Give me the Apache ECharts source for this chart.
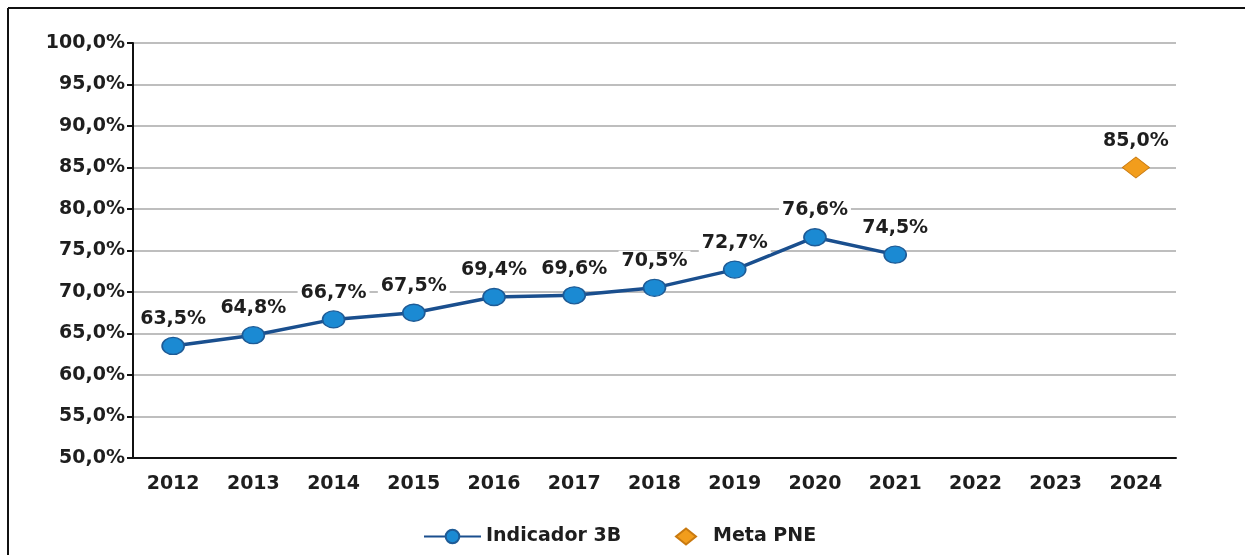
<!DOCTYPE html>
<html>
<head>
<meta charset="utf-8">
<script src="https://cdn.jsdelivr.net/npm/echarts@6/dist/echarts.min.js"></script>
<style>
  html, body { margin: 0; padding: 0; background: #fff; }
  #chart { width: 1245px; height: 555px; }
</style>
</head>
<body>
<div id="chart"></div>
<script>
var years = ['2012','2013','2014','2015','2016','2017','2018','2019','2020','2021','2022','2023','2024'];
var indicador = [63.5, 64.8, 66.7, 67.5, 69.4, 69.6, 70.5, 72.7, 76.6, 74.5, null, null, null];
var meta = [null, null, null, null, null, null, null, null, null, null, null, null, 85.0];

var dom = document.getElementById('chart');
var myChart = echarts.init(dom);

function pct(v) {
    return v.toFixed(1).replace('.', ',') + '%';
}

var txtFont = 'DejaVu Sans';
var txtColor = '#1e1e1e';

var option = {
    animation: false,
    backgroundColor: '#fff',
    textStyle: { fontFamily: txtFont },
    graphic: [
        { type: 'line', shape: { x1: 8, y1: 8, x2: 1245, y2: 8 }, style: { stroke: '#111', lineWidth: 2 } },
        { type: 'line', shape: { x1: 8, y1: 8, x2: 8, y2: 555 }, style: { stroke: '#111', lineWidth: 2 } }
    ],
    grid: { left: 133, right: 69, top: 43, bottom: 97 },
    legend: [
        {
            data: ['Indicador 3B'],
            left: 418, top: 522,
            itemWidth: 57, itemHeight: 17,
            textStyle: { fontSize: 19, fontWeight: 'bold', color: txtColor, fontFamily: txtFont }
        },
        {
            data: ['Meta PNE'],
            left: 670, top: 522,
            itemWidth: 20, itemHeight: 16,
            textStyle: { fontSize: 19, fontWeight: 'bold', color: txtColor, fontFamily: txtFont, padding: [0, 0, 0, 12] }
        }
    ],
    xAxis: {
        type: 'category',
        data: years,
        boundaryGap: true,
        axisLine: { lineStyle: { color: '#111', width: 2 } },
        axisTick: { show: false },
        axisLabel: { fontSize: 19, fontWeight: 'bold', color: txtColor, margin: 17, fontFamily: txtFont }
    },
    yAxis: {
        type: 'value',
        min: 50, max: 100, interval: 5,
        axisLine: { show: true, lineStyle: { color: '#111', width: 2 } },
        axisTick: { show: true, length: 6, lineStyle: { color: '#111', width: 2 } },
        splitLine: { lineStyle: { color: '#a8a8a8', width: 1.5 } },
        axisLabel: {
            fontSize: 19, fontWeight: 'bold', color: txtColor, margin: 8, fontFamily: txtFont,
            formatter: function (v) { return pct(v); }
        }
    },
    series: [
        {
            name: 'Indicador 3B',
            type: 'line',
            data: indicador,
            symbol: 'circle',
            symbolSize: [22, 17],
            lineStyle: { color: '#1a4f8e', width: 3.5 },
            itemStyle: { color: '#1b8ad3', borderColor: '#1e5b96', borderWidth: 1.5 },
            label: {
                show: true, position: 'top', distance: 7,
                fontSize: 19, fontWeight: 'bold', color: txtColor, fontFamily: txtFont,
                backgroundColor: '#fff', padding: [1, 3],
                formatter: function (p) { return pct(p.value); }
            },
            z: 3
        },
        {
            name: 'Meta PNE',
            type: 'scatter',
            data: meta,
            symbol: 'diamond',
            symbolSize: [27, 21],
            itemStyle: { color: '#f29d1c', borderColor: '#c97a10', borderWidth: 1, opacity: 1 },
            label: {
                show: true, position: 'top', distance: 5,
                fontSize: 19, fontWeight: 'bold', color: txtColor, fontFamily: txtFont,
                backgroundColor: '#fff', padding: [1, 3],
                formatter: function (p) { return pct(p.value); }
            },
            z: 3
        }
    ]
};

if (option && typeof option === 'object') {
    myChart.setOption(option, true);
}
</script>
</body>
</html>
